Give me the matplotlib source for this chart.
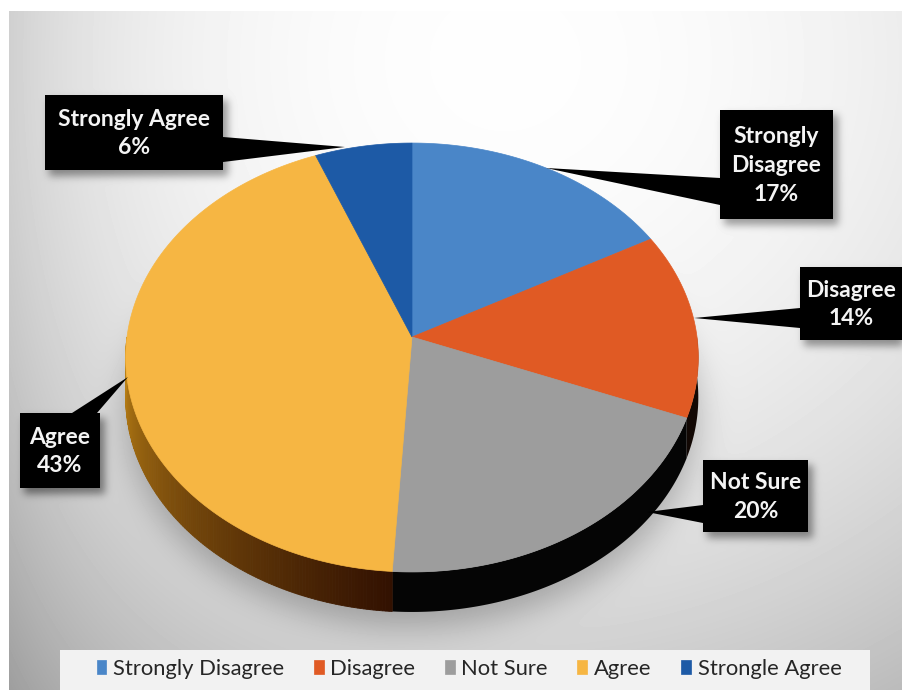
import numpy as np
import matplotlib.pyplot as plt
from matplotlib.patches import Rectangle, Polygon
from matplotlib.colors import to_rgb
from matplotlib.path import Path

# survey answers (percent of respondents)
labels = ['Strongly Disagree', 'Disagree', 'Not Sure', 'Agree', 'Strongle Agree']
box_names = ['Strongly\nDisagree', 'Disagree', 'Not Sure', 'Agree', 'Strongly Agree']
shares = [17, 14, 20, 43, 6]
colors = ['#4a86c8', '#e05a24', '#9d9d9d', '#f6b643', '#1d5aa6']
side_colors = ['#10131a', '#120804', '#050505', None, '#0a1a33']

W, H = 903, 690
plt.rcParams['font.family'] = ['Lato', 'DejaVu Sans']

# pie geometry in pixels (tilted disc with a little perspective)
CX, CY = 412, 337
RX, RY = 285, 212.5
K = -0.0956
DEPTH = 40


def project(theta):
    u = np.sin(theta)
    v = -np.cos(theta)
    w = 1 + K * v
    return CX + RX * u / w, CY + RY * v / w


# callout boxes: (x0, y0, x1, y1), pointer tip, pointer base (two points)
boxes = [
    ((720, 110, 833, 219), (546, 168), [(720, 178), (720, 205)]),
    ((800, 267, 902, 340), (694, 318), [(800, 308), (800, 328)]),
    ((703, 460, 808, 532), (647, 512), [(703, 505), (703, 523)]),
    ((20, 413, 100, 488), (128, 377), [(72, 413), (97, 413)]),
    ((45, 95, 223, 170), (345, 147), [(223, 137), (223, 162)]),
]


def blur(img, s):
    r = int(3 * s)
    k = np.exp(-0.5 * (np.arange(-r, r + 1) / s) ** 2)
    k /= k.sum()
    img = np.apply_along_axis(lambda m: np.convolve(m, k, mode='same'), 0, img)
    img = np.apply_along_axis(lambda m: np.convolve(m, k, mode='same'), 1, img)
    return img


# background: soft light-grey vignette
yy, xx = np.mgrid[0:H, 0:W]
d2 = ((xx - 500) / 680) ** 2 + ((yy - 60) / 620) ** 2
bg = 0.995 - 0.19 * d2 - 0.08 * np.exp(-(xx - 10) / 90.0)

# shadow under the pie
t = np.linspace(0, 2 * np.pi, 400)
px, py = project(t)
pie_path = Path(np.column_stack([px, py + DEPTH + 14]))
inside = pie_path.contains_points(np.column_stack([xx.ravel(), yy.ravel()])).reshape(H, W)
bg -= 0.22 * blur(inside.astype(float), 16)

# shadows under the callout boxes
bs = np.zeros((H, W))
for (x0, y0, x1, y1), _, _ in boxes:
    bs[y0 + 5:y1 + 6, x0 + 4:min(x1 + 5, W)] = 1
bg -= 0.35 * blur(bs, 4)

bg[:, :9] = 1.0
bg[:11, :] = 1.0
bg = np.clip(bg, 0, 1)

fig = plt.figure(figsize=(W / 100, H / 100), dpi=100)
ax = fig.add_axes([0, 0, 1, 1])
ax.set_xlim(0, W)
ax.set_ylim(H, 0)
ax.axis('off')
ax.imshow(bg, cmap='gray', vmin=0, vmax=1, extent=(0, W, H, 0), zorder=0,
          interpolation='bilinear')

bounds = np.concatenate([[0], np.cumsum(shares)]) / sum(shares) * 2 * np.pi

# side wall, only the front half (90..270 degrees) faces the viewer
agree_top = np.array(to_rgb('#c08516'))
agree_bot = np.array(to_rgb('#2c0c00'))
for i in range(len(shares)):
    a0 = max(bounds[i], np.pi / 2)
    a1 = min(bounds[i + 1], 3 * np.pi / 2)
    if a1 <= a0:
        continue
    steps = np.linspace(a0, a1, max(int((a1 - a0) / 0.01), 2))
    if side_colors[i] is None:
        for s0, s1 in zip(steps[:-1], steps[1:]):
            f = np.clip((1.5 * np.pi - s1) / (1.5 * np.pi - np.pi), 0, 1) ** 0.9
            c = agree_top * (1 - f) + agree_bot * f
            x0, y0 = project(s0)
            x1, y1 = project(s1)
            ax.fill([x0, x1, x1, x0], [y0, y1, y1 + DEPTH, y0 + DEPTH],
                    color=c, lw=0.6, ec=c, zorder=2)
    else:
        sx, sy = project(steps)
        ax.fill(np.concatenate([sx, sx[::-1]]), np.concatenate([sy, sy[::-1] + DEPTH]),
                color=side_colors[i], lw=0, zorder=2)

# top face
wedges = []
for i in range(len(shares)):
    tt = np.linspace(bounds[i], bounds[i + 1], 200)
    sx, sy = project(tt)
    p = ax.fill(np.concatenate([[CX], sx]), np.concatenate([[CY], sy]),
                color=colors[i], lw=0.5, ec=colors[i], zorder=3)[0]
    wedges.append(p)

# callouts
for i, ((x0, y0, x1, y1), tip, base) in enumerate(boxes):
    ax.add_patch(Polygon([tip] + base, closed=True, color='black', lw=0, zorder=4))
    ax.add_patch(Rectangle((x0, y0), x1 - x0, y1 - y0, color='black', lw=0, zorder=5))
    ax.text((x0 + x1) / 2, (y0 + y1) / 2 + 1, f'{box_names[i]}\n{shares[i]}%',
            ha='center', va='center', color='#f4f4f4', fontsize=16.5,
            fontweight='bold', linespacing=1.45, zorder=6)

# legend strip
ax.add_patch(Rectangle((60, 650), 810, 45, color='#f2f2f2', lw=0, zorder=1))
ax.legend(wedges, labels, ncol=5, loc='center', bbox_to_anchor=(469 / W, 1 - 669 / H),
          frameon=False, fontsize=15.8, handlelength=0.45, handleheight=0.6,
          handletextpad=0.3, columnspacing=1.35, labelcolor='#262626')

fig.savefig('out.png', dpi=100)
